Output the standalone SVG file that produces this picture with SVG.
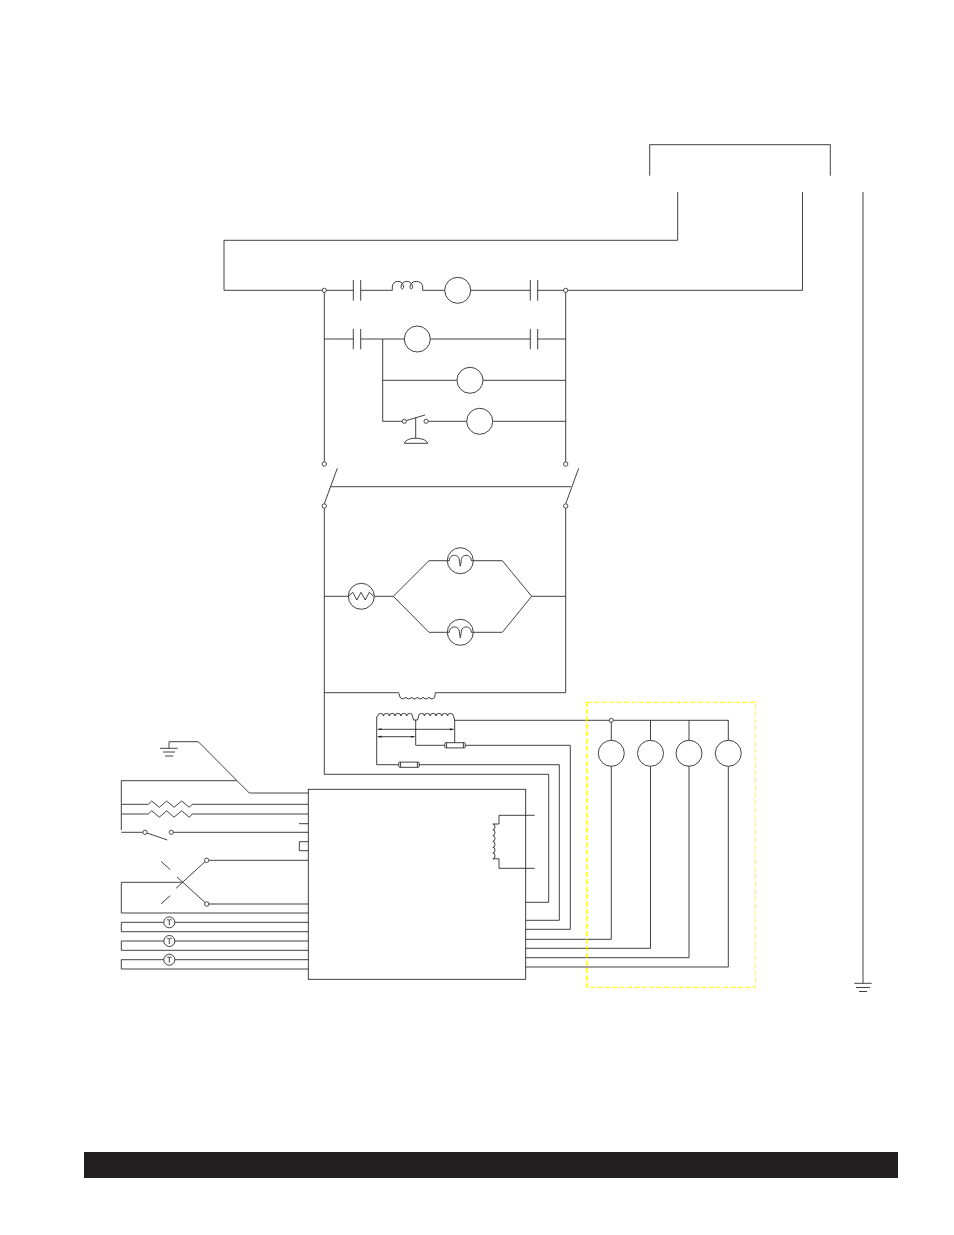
<svg xmlns="http://www.w3.org/2000/svg" width="954" height="1235" viewBox="0 0 954 1235">
<style>
.w{fill:none;stroke:#231f20;stroke-width:.85;stroke-linejoin:miter}
.c{fill:#fff;stroke:#231f20;stroke-width:.85}
.n{fill:#fff;stroke:#231f20;stroke-width:.8}
.y{fill:none;stroke:#ffff00;stroke-width:1.1;stroke-dasharray:5 2.4}
</style>
<defs>
<marker id="ah" viewBox="0 0 6 4" refX="5" refY="1.5" markerWidth="6" markerHeight="3" markerUnits="userSpaceOnUse" orient="auto-start-reverse"><path d="M0 0L5 1.5L0 3Z" fill="#231f20"/></marker>
<g id="bulb"><circle class="c" r="13"/><path class="w" d="M-13 0H-11C-11-7-1.5-7-1-1C-.8 2-.3 4 0 5.5C.3 4 .8 2 1-1C1.5-7 11-7 11 0H13"/></g>
<g id="lamp"><circle class="c" r="5.5"/><path class="w" d="M-2.5-2.2C-1.5-3.2-.4-2.8 0-1.6C.4-2.8 1.5-3.2 2.5-2.2M0-1.6V3"/></g>
<g id="fuse"><rect class="c" x="-10.2" y="-2.6" width="20.4" height="5.2" rx=".8"/><path class="w" d="M-8.4-2.6V2.6M8.4-2.6V2.6"/></g>
</defs>
<g id="connectors">
<path class="w" d="M649.7 175.7V144.7H830.3V175.7"/>
<path class="w" d="M677.7 192V240.3H224V290.3H353.3M802.5 192V290.3H537.7"/>
<path class="w" d="M863 192V983.3"/>
<path class="w" d="M360.7 290.3H392.3M422.7 290.3H444.7M470.7 290.3H530.3"/>
<path class="w" d="M324.3 290.3V461.8M565.7 290.3V461.8"/>
<path class="w" d="M324.3 339H353.3M360.7 339H404.3M430.3 339H530.3M537.7 339H565.7"/>
<path class="w" d="M382.7 339V421.3H402.1M382.7 380.3H457M483 380.3H565.7M428.2 421.3H466.7M492.7 421.3H565.7"/>
<path class="w" d="M324.3 503.8L337.3 468.3M565.7 503.8L578.7 468.3M331 486.7H571"/>
<path class="w" d="M324.3 508.2V774.3H548.7V902.3H525.7M565.7 508.2V692.7H435.3M324.3 692.7H398.7"/>
<path class="w" d="M324.3 596.3H348.3M374.3 596.3H393.3L429 560.7H447.3M473.3 560.7H502.3L531.7 596.3H565.7M393.3 596.3L429 632.3H447.3M473.3 632.3H502.3L531.7 596.3"/>
<path class="w" d="M376.7 717V764.7H399M419 764.7H559.3V920.3H525.7"/>
<path class="w" d="M415.7 720V745.3H444.7M465.3 745.3H570.3V929.3H525.7"/>
<path class="w" d="M454.7 720V743.3"/>
<path class="w" d="M454.7 720.3H728.3V740.3M611.3 720.3V740.3M650.5 720.3V740.3M689 720.3V740.3"/>
<path class="w" d="M611.3 766.3V939.3H525.7M650.5 766.3V948.3H525.7M689 766.3V957.7H525.7M728.3 766.3V967H525.7"/>
<path class="w" d="M377.7 729.3H453.7" marker-start="url(#ah)" marker-end="url(#ah)"/>
<path class="w" d="M377.7 736.7H414.7" marker-start="url(#ah)" marker-end="url(#ah)"/>
<path class="w" d="M169 748.3V741.7H198.3L249.3 793H308.3M121.3 780.7H236.7M121.3 780.7V830"/>
<path class="w" d="M121.3 804.3H148.3M192.3 804.3H308.3M121.3 814H148.3M192.3 814H308.3M299 823.7H308.3"/>
<path class="w" d="M121.3 832.3H142.9M173.5 832.3H308.3"/>
<path class="w" d="M208.9 860.3H308.3M208.9 904H308.3"/>
<path class="w" d="M204.9 861.8L176 888.3M204.9 902.4L177 877M161 861.3L170.3 869.7M161 903.7L170.3 895.7"/>
<path class="w" d="M181.7 882.3H121.3V913H308.3"/>
<path class="w" d="M163.8 922.3H121.3V931.7H308.3M174.8 922.3H308.3M163.8 941H121.3V950.3H308.3M174.8 941H308.3M163.8 959.7H121.3V969H308.3M174.8 959.7H308.3"/>
</g>
<g id="contact-1"><path class="w" d="M353.3 280V300.7M360.7 280V300.7"/></g>
<g id="contact-2"><path class="w" d="M530.3 280V300.7M537.7 280V300.7"/></g>
<g id="contact-3"><path class="w" d="M353.3 329V349.3M360.7 329V349.3"/></g>
<g id="contact-4"><path class="w" d="M530.3 329V349.3M537.7 329V349.3"/></g>
<g id="coil-1"><path class="w" d="M392.3 290.3V287C392.3 279.5 403.5 279.5 403.5 287C403.5 289.5 401 289.5 401 287C401 279.5 412.5 279.5 412.5 287C412.5 289.5 410 289.5 410 287C410 279.5 422.7 279.5 422.7 287V290.3"/></g>
<g id="motor-1"><circle class="c" cx="457.7" cy="290.3" r="13"/></g>
<g id="motor-2"><circle class="c" cx="417.3" cy="339" r="13"/></g>
<g id="motor-3"><circle class="c" cx="470" cy="380.3" r="13"/></g>
<g id="motor-4"><circle class="c" cx="479.7" cy="421.3" r="13"/></g>
<g id="pushbutton"><path class="w" d="M406.3 420.6L425 415M415.7 417.7V438.3"/><path class="w" d="M404.3 443.3H427.7C426 439.5 421 438.3 415.7 438.3C410.5 438.3 406 439.5 404.3 443.3Z"/><circle class="n" cx="404.3" cy="421.3" r="2.1"/><circle class="n" cx="426.1" cy="421.3" r="2.1"/></g>
<g id="terminals"><circle class="n" cx="324.3" cy="290.3" r="2.1"/><circle class="n" cx="565.7" cy="290.3" r="2.1"/><circle class="n" cx="324.3" cy="464" r="2.2"/><circle class="n" cx="565.7" cy="464" r="2.2"/><circle class="n" cx="324.3" cy="506" r="2.2"/><circle class="n" cx="565.7" cy="506" r="2.2"/></g>
<g id="heater"><circle class="c" cx="361.3" cy="596.3" r="13"/><path class="w" d="M348.5 596.3L352.7 592.3L356.9 600L361 592.3L365.2 600L369.3 592.3L373.8 596.3"/></g>
<use id="lamp-upper" href="#bulb" x="460.3" y="560.7"/>
<use id="lamp-lower" href="#bulb" x="460.3" y="632.3"/>
<g id="transformer-primary"><path class="w" d="M398.7 692.7L400 697a3 2.5 0 0 0 5.8 0a3 2.5 0 0 0 5.8 0a3 2.5 0 0 0 5.8 0a3 2.5 0 0 0 5.8 0a3 2.5 0 0 0 5.8 0a3 2.5 0 0 0 5.8 0L435.3 692.7"/></g>
<g id="transformer-secondary"><path class="w" d="M376.7 717L377.7 716a2.9 2.6 0 0 1 5.8 0a2.9 2.6 0 0 1 5.8 0a2.9 2.6 0 0 1 5.8 0a2.9 2.6 0 0 1 5.8 0a2.9 2.6 0 0 1 5.8 0a2.9 2.6 0 0 1 5.8 0L413.5 720H417.5L418.6 716a2.9 2.6 0 0 1 5.8 0a2.9 2.6 0 0 1 5.8 0a2.9 2.6 0 0 1 5.8 0a2.9 2.6 0 0 1 5.8 0a2.9 2.6 0 0 1 5.8 0a2.9 2.6 0 0 1 5.8 0L454.7 720"/></g>
<use id="fuse-1" href="#fuse" x="455" y="745.3"/>
<use id="fuse-2" href="#fuse" x="409" y="764.7"/>
<g id="relay-1"><circle class="c" cx="611.3" cy="753.3" r="13"/><circle class="n" cx="611.3" cy="720.3" r="2"/></g>
<g id="relay-2"><circle class="c" cx="650.5" cy="753.3" r="13"/></g>
<g id="relay-3"><circle class="c" cx="689" cy="753.3" r="13"/></g>
<g id="relay-4"><circle class="c" cx="728.3" cy="753.3" r="13"/></g>
<g id="controller"><rect class="w" x="308.3" y="789.3" width="217.4" height="190"/><path class="w" d="M534.7 815.3H499V824H492.8a2.2 2.9 0 0 1 0 5.8a2.2 2.9 0 0 1 0 5.8a2.2 2.9 0 0 1 0 5.8a2.2 2.9 0 0 1 0 5.8a2.2 2.9 0 0 1 0 5.8a2.2 2.9 0 0 1 0 5.8H499V868.3H534.7"/></g>
<g id="tab"><path class="w" d="M308.3 841.7H299.3V850.7H308.3"/></g>
<g id="ground-left"><path class="w" d="M160 748.3H177.7M163 752H175M165 756H173.3"/></g>
<g id="ground-right"><path class="w" d="M854.3 983.3H871.7M856 987.5H870M859 991.5H867"/></g>
<g id="resistor-1"><path class="w" d="M148.3 804.3L151.7 801L159.3 807.3L166.7 801L174 807.3L181.7 801L189.3 807.3L192.3 804.3"/></g>
<g id="resistor-2"><path class="w" d="M148.3 814L151.7 810.8L159.3 817.2L166.7 810.8L174 817.2L181.7 810.8L189.3 817.2L192.3 814"/></g>
<g id="switch"><path class="w" d="M147 833L167.3 840"/><circle class="n" cx="145" cy="832.3" r="2.1"/><circle class="n" cx="171.3" cy="832.3" r="2.1"/></g>
<g id="cross-switch"><circle class="n" cx="206.7" cy="860.3" r="2.2"/><circle class="n" cx="206.7" cy="904" r="2.2"/></g>
<use id="lamp-1" href="#lamp" x="169.3" y="922.3"/>
<use id="lamp-2" href="#lamp" x="169.3" y="941"/>
<use id="lamp-3" href="#lamp" x="169.3" y="959.7"/>
<g id="option-box"><rect class="y" x="586.7" y="702.3" width="168.6" height="285"/></g>
<rect id="footer-bar" x="84" y="1152" width="814" height="26" fill="#231f20"/>
</svg>
